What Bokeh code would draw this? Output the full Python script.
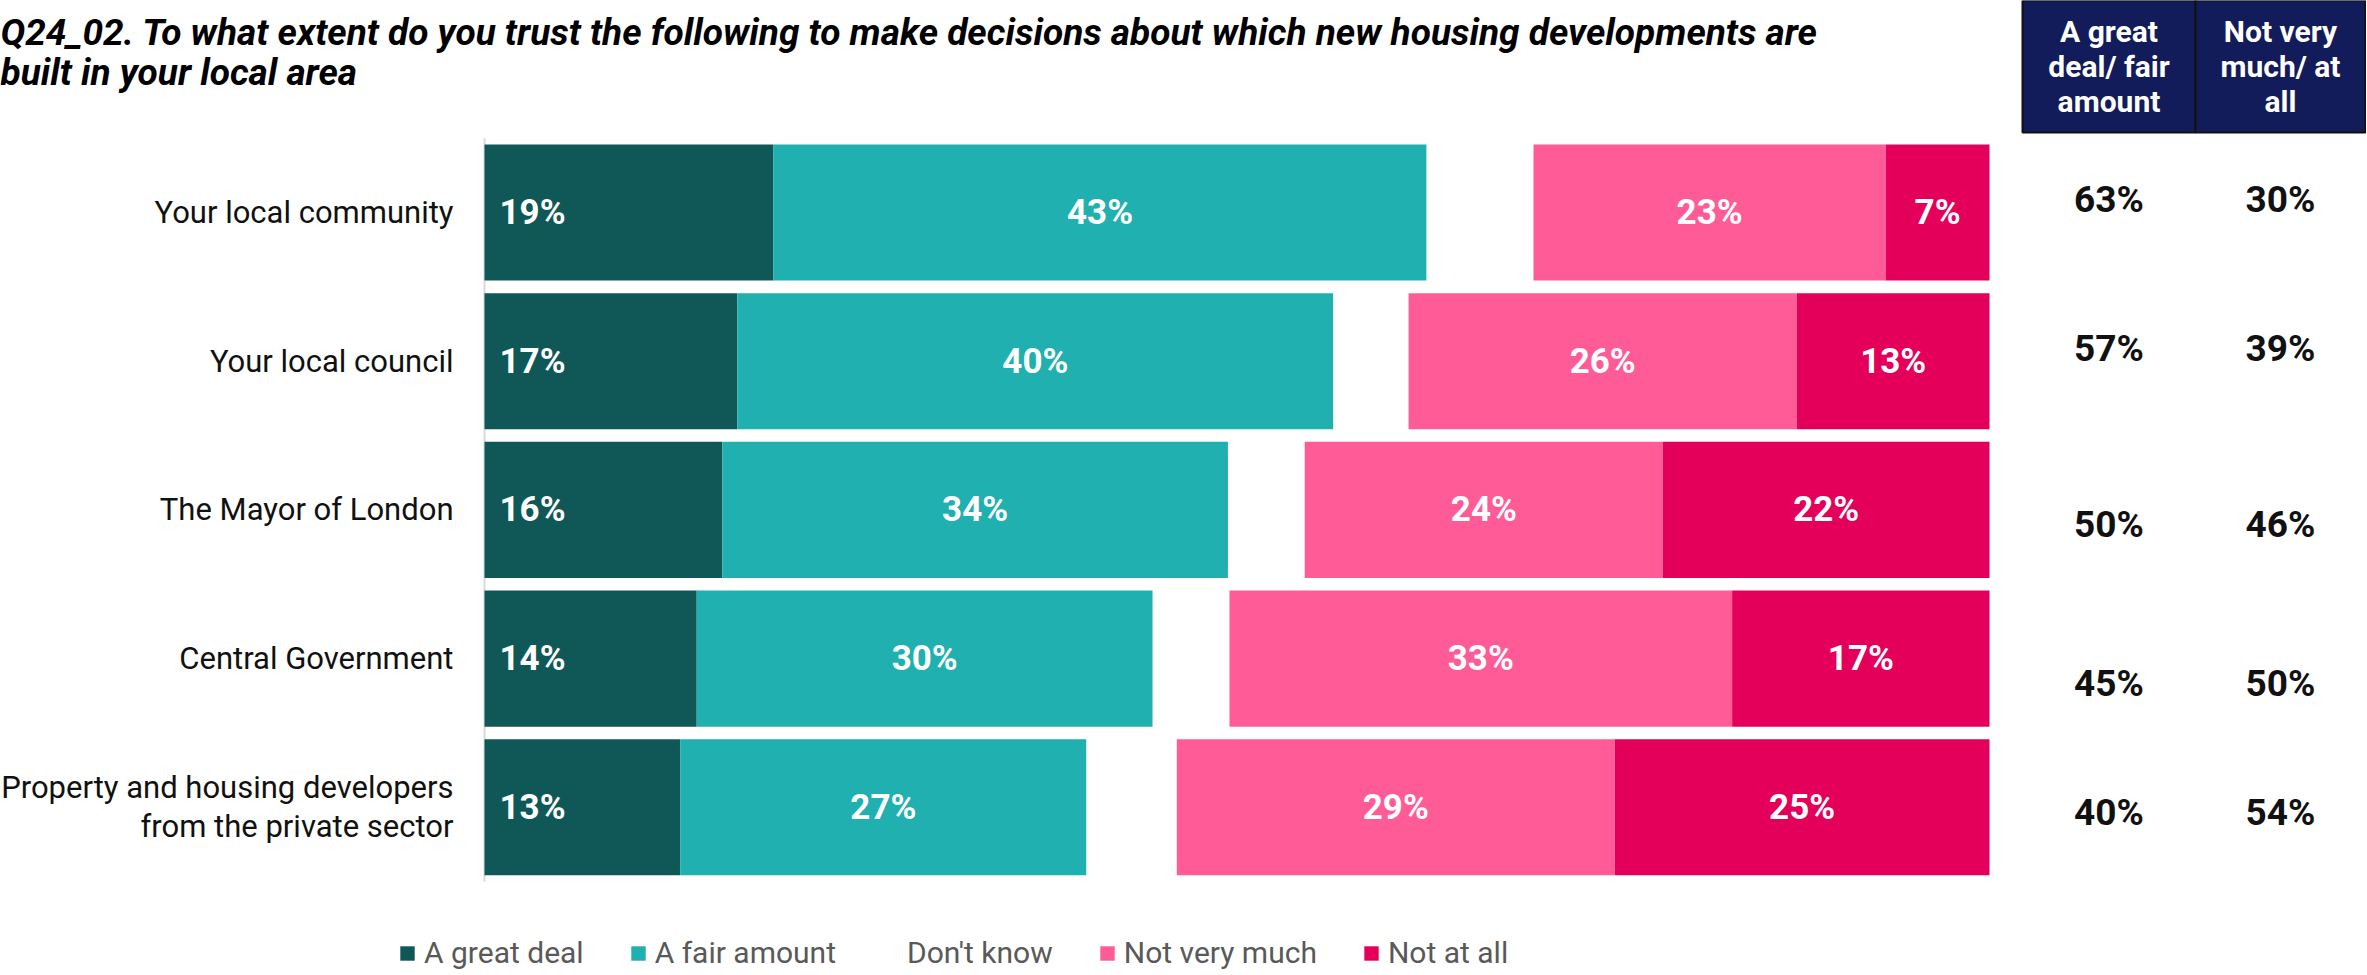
from bokeh.plotting import figure
from bokeh.models import Range1d, ColumnDataSource, Legend, LegendItem
from bokeh.core.properties import value
from bokeh.embed import file_html
from bokeh.resources import INLINE

# ---------------- data ----------------
categories = [
    "Your local community",
    "Your local council",
    "The Mayor of London",
    "Central Government",
    "Property and housing developers\nfrom the private sector",
]
series_names = ["A great deal", "A fair amount", "Don't know", "Not very much", "Not at all"]
great_deal = [19.2, 16.8, 15.8, 14.1, 13.0]
fair_amount = [43.4, 39.6, 33.6, 30.3, 27.0]
dont_know = [7.1, 5.0, 5.1, 5.1, 6.0]
not_very_much = [23.4, 25.8, 23.8, 33.4, 29.1]
not_at_all = [6.9, 12.8, 21.7, 17.1, 24.9]
net_trust = [63, 57, 50, 45, 40]
net_distrust = [30, 39, 46, 50, 54]
net_headers = ["A great\ndeal/ fair\namount", "Not very\nmuch/ at\nall"]
title_lines = [
    "Q24_02. To what extent do you trust the following to make decisions about which new housing developments are",
    "built in your local area",
]

# ---------------- style / layout ----------------
colors = ["#0f5857", "#1fb0af", "#ffffff", "#ff5b96", "#e4005a"]
label_visible = [True, True, False, True, True]
NAVY = "#131c5a"
FONT = "Roboto"
W, H = 2366, 974
PAGE = 0                    # offset of the canvas on the page
X0_PX, X100_PX = 484, 1989  # page px of 0% and 100%
ROW0_PX, ROW_PITCH = 212, 148.7
BAR_H = 0.915
net_dy = [-13, -13, 15, 25, 5]  # px offsets of the net-score texts

sx = (X100_PX - X0_PX) / 100.0


def px_x(page_px):
    return (page_px - X0_PX) / sx


def px_y(page_py):
    return (page_py - ROW0_PX) / ROW_PITCH


x_range = Range1d(px_x(PAGE), px_x(PAGE + W))
y_range = Range1d(px_y(PAGE + H), px_y(PAGE))

p = figure(width=W, height=H, x_range=x_range, y_range=y_range,
           output_backend="svg", toolbar_location=None,
           x_axis_location=None, y_axis_location=None,
           min_border=0, outline_line_color=None)
p.grid.visible = False
p.background_fill_color = "white"
p.border_fill_color = "white"

rows = list(range(len(categories)))

# axis line
p.segment(x0=[0], x1=[0], y0=[-0.5], y1=[len(rows) - 0.5],
          line_color="#d9d9d9", line_width=2, level="underlay")

# stacked bars
series = [great_deal, fair_amount, dont_know, not_very_much, not_at_all]
left = [0.0] * len(rows)
renderers = []
for i, (name, vals, col) in enumerate(zip(series_names, series, colors)):
    right = [l + v for l, v in zip(left, vals)]
    src = ColumnDataSource(dict(
        y=rows, left=left, right=right,
        mid=[(l + r) / 2 for l, r in zip(left, right)],
        label=[f"{round(v)}%" for v in vals],
    ))
    r = p.hbar(y="y", left="left", right="right", height=BAR_H, source=src,
               fill_color=col, line_color=None)
    renderers.append(r)
    if label_visible[i]:
        if i == 0:
            p.text(x="left", y="y", text="label", source=src, x_offset=15,
                   text_align="left", text_baseline="middle",
                   text_font=value(FONT), text_font_style="bold",
                   text_font_size="35px", text_color="white")
        else:
            p.text(x="mid", y="y", text="label", source=src,
                   text_align="center", text_baseline="middle",
                   text_font=value(FONT), text_font_style="bold",
                   text_font_size="35px", text_color="white")
    left = right

# category labels
p.text(x=[0] * len(rows), y=rows, text=categories, x_offset=-31,
       text_align="right", text_baseline="middle",
       text_font=value(FONT), text_font_size="31px", text_color="#111111",
       text_line_height=1.05)

# net score header boxes
box_l = [px_x(2022), px_x(2195)]
box_r = [px_x(2195), px_x(2365)]
p.quad(left=box_l, right=box_r, top=[px_y(0)] * 2, bottom=[px_y(132)] * 2,
       fill_color=NAVY, line_color="#111111", line_width=2)
p.text(x=[(a + b) / 2 for a, b in zip(box_l, box_r)], y=[px_y(66)] * 2,
       text=net_headers, text_align="center", text_baseline="middle",
       text_font=value(FONT), text_font_style="bold", text_font_size="30px",
       text_color="white", text_line_height=1.0)

# net score values
for vals, xc in zip([net_trust, net_distrust], [(box_l[0] + box_r[0]) / 2, (box_l[1] + box_r[1]) / 2]):
    src = ColumnDataSource(dict(x=[xc] * len(rows), y=rows,
                                t=[f"{v}%" for v in vals], dy=net_dy))
    p.text(x="x", y="y", text="t", y_offset="dy", source=src,
           text_align="center", text_baseline="middle",
           text_font=value(FONT), text_font_style="bold",
           text_font_size="37px", text_color="#111111")

# title
p.text(x=[px_x(PAGE)] * 2, y=[px_y(32), px_y(72)], text=title_lines,
       text_align="left", text_baseline="alphabetic",
       text_font=value(FONT), text_font_style="bold italic",
       text_font_size="37px", text_color="#000000")

# legend
legend = Legend(items=[LegendItem(label=n, renderers=[r]) for n, r in zip(series_names, renderers)],
                orientation="horizontal", location=(398, 4),
                glyph_width=18, glyph_height=18, label_standoff=8, spacing=45,
                padding=0, margin=0, border_line_color=None,
                background_fill_alpha=0,
                label_text_font=FONT, label_text_font_size="30px",
                label_text_color="#595959")
p.add_layout(legend)

open("out.html", "w").write(file_html(p, INLINE))
